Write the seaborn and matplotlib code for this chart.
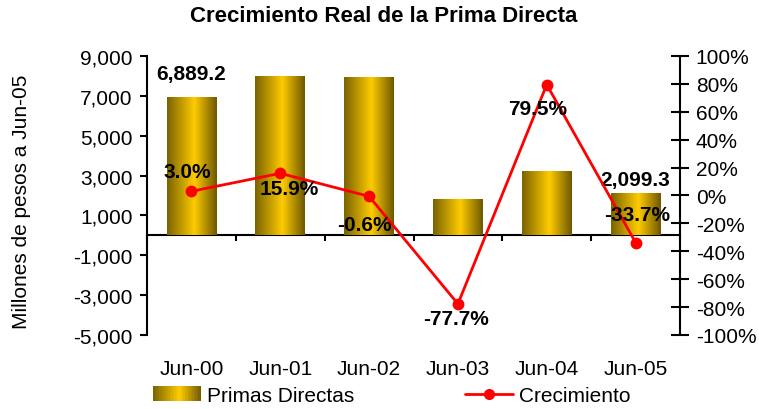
import numpy as np
import seaborn as sns
import matplotlib
matplotlib.use('Agg')
import matplotlib.pyplot as plt
from matplotlib.colors import LinearSegmentedColormap
from matplotlib.patches import Rectangle
from matplotlib.lines import Line2D
from matplotlib.legend_handler import HandlerBase

# data
periods = ['Jun-00', 'Jun-01', 'Jun-02', 'Jun-03', 'Jun-04', 'Jun-05']
primas = [6889.2, 7960.0, 7915.0, 1768.0, 3170.0, 2099.3]
crecimiento = [3.0, 15.9, -0.6, -77.7, 79.5, -33.7]
left_ticks = list(range(-5000, 9001, 2000))
right_ticks = list(range(-100, 101, 20))

# which bars get a value label, and label offsets (pixels) for the line labels
bar_label_idx = [0, 5]
bar_label_off = [(0, 25), (0, 14)]
pct_label_off = [(-4, 20), (9, -15), (-5, -28), (-2, -15), (-9, -24), (2, 28)]

sns.set_style('ticks')
plt.rcParams['font.family'] = ['Liberation Sans', 'DejaVu Sans']
plt.rcParams['text.color'] = 'black'
plt.rcParams['axes.labelcolor'] = 'black'
FS = 15

gold = LinearSegmentedColormap.from_list(
    'gold', [(0, '#7A6300'), (0.55, '#FFCC00'), (1, '#6E5800')])

fig = plt.figure(figsize=(7.59, 4.1), dpi=100)
ax = fig.add_axes([147 / 759, 1 - 336 / 410, 533 / 759, 279 / 410])

sns.barplot(x=periods, y=primas, color='#FFCC00', width=0.56, ax=ax, zorder=2)

# gold gradient on each bar
grad = np.linspace(0, 1, 128).reshape(1, -1)
for p in ax.patches:
    x0, y0 = p.get_x(), p.get_y()
    w, h = p.get_width(), p.get_height()
    ax.imshow(grad, extent=(x0, x0 + w, y0, y0 + h), aspect='auto',
              cmap=gold, interpolation='bicubic', zorder=2)
    p.set_facecolor('none')
    p.set_edgecolor('none')

ymin, ymax = -5000, 9000
ax.set_ylim(ymin, ymax)
ax.set_xlim(-0.5, len(periods) - 0.5)
ax.set_yticks(left_ticks)
ax.set_yticklabels([f'{v:,.0f}' for v in left_ticks])
ax.tick_params(axis='y', direction='out', length=5, width=1.5, pad=5.5,
               labelsize=FS, colors='black')
ax.tick_params(axis='x', length=0, pad=17, labelsize=FS, colors='black')
for s in ['top', 'bottom', 'right']:
    ax.spines[s].set_visible(False)
ax.spines['left'].set_linewidth(1.5)
ax.spines['left'].set_color('black')
ax.set_xlabel('')
ax.set_ylabel('')

# category axis line at zero with tick marks between categories
zero_axis = ax.secondary_xaxis((0 - ymin) / (ymax - ymin))
zero_axis.set_xticks(np.arange(len(periods) + 1) - 0.5)
zero_axis.set_xticklabels([])
zero_axis.tick_params(direction='out', length=4.5, width=1.5, colors='black')
zero_axis.spines['bottom'].set_linewidth(1.5)
zero_axis.spines['bottom'].set_color('black')

for i, off in zip(bar_label_idx, bar_label_off):
    ax.annotate(f'{primas[i]:,.1f}', (i, primas[i]), xytext=off,
                textcoords='offset pixels', ha='center', va='center',
                fontsize=FS, fontweight='bold', color='black', zorder=5)

# growth line on the right axis
ax2 = ax.twinx()
sns.pointplot(x=periods, y=crecimiento, ax=ax2, color='#FF0000',
              markers='o', markersize=7, linewidth=2)
ax2.set_ylim(-100, 100)
ax2.set_xlim(-0.5, len(periods) - 0.5)
ax2.set_yticks(right_ticks)
ax2.set_yticklabels([f'{v}%' for v in right_ticks])
ax2.tick_params(axis='y', direction='inout', length=12.5, width=1.5, pad=5,
                labelsize=FS, colors='black')
for s in ['top', 'bottom', 'left']:
    ax2.spines[s].set_visible(False)
ax2.spines['right'].set_linewidth(1.5)
ax2.spines['right'].set_color('black')
ax2.set_ylabel('')
ax2.set_xlabel('')

for i, (v, off) in enumerate(zip(crecimiento, pct_label_off)):
    ax2.annotate(f'{v:.1f}%', (i, v), xytext=off, textcoords='offset pixels',
                 ha='center', va='center', fontsize=FS, fontweight='bold',
                 color='black')

fig.text(384 / 759, 1 - 16 / 410, 'Crecimiento Real de la Prima Directa',
         ha='center', va='center', fontsize=16, fontweight='bold')
fig.text(22 / 759, 1 - 202 / 410, 'Millones de pesos a Jun-05',
         rotation=90, ha='center', va='center', fontsize=FS, color='black')


class GradientHandler(HandlerBase):
    def create_artists(self, legend, orig, xd, yd, width, height, fontsize, trans):
        n = 32
        arts = []
        for k in range(n):
            r = Rectangle((xd + width * k / n, yd), width / n * 1.1, height,
                          facecolor=gold((k + 0.5) / n), edgecolor='none',
                          transform=trans)
            arts.append(r)
        return arts


bar_handle = Rectangle((0, 0), 1, 1)
line_handle = Line2D([], [], color='#FF0000', marker='o', markersize=7, linewidth=2)
fig.legend([bar_handle, line_handle], ['Primas Directas', 'Crecimiento'],
           handler_map={Rectangle: GradientHandler()},
           loc='center', bbox_to_anchor=(392 / 759, 1 - 397 / 410), ncol=2,
           frameon=False, fontsize=FS, handlelength=2.3, handleheight=0.75,
           handletextpad=0.3, columnspacing=5.3, borderpad=0)

fig.savefig('out.png', dpi=100)
